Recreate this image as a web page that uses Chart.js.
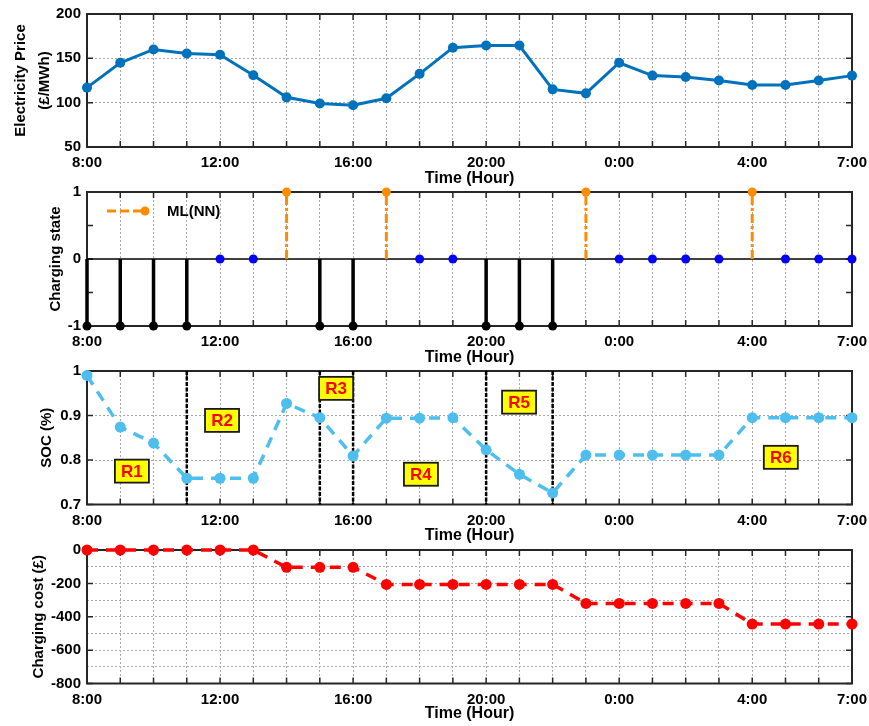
<!DOCTYPE html>
<html>
<head>
<meta charset="utf-8">
<title>EV charging schedule</title>
<script src="https://cdn.jsdelivr.net/npm/chart.js@4.4.1/dist/chart.umd.min.js"></script>
<style>
  html, body { margin: 0; padding: 0; background: #fff; }
  #wrap { position: relative; width: 869px; height: 726px; }
  #wrap canvas { position: absolute; left: 0; top: 0; }
</style>
</head>
<body>
<div id="wrap">
  <canvas id="pricePanel" width="869" height="726"></canvas>
  <canvas id="statePanel" width="869" height="726"></canvas>
  <canvas id="socPanel" width="869" height="726"></canvas>
  <canvas id="costPanel" width="869" height="726"></canvas>
</div>
<script>
// Hourly time slots over one day, starting at 8:00
const hours = ['8:00','9:00','10:00','11:00','12:00','13:00','14:00','15:00','16:00','17:00','18:00','19:00',
               '20:00','21:00','22:00','23:00','0:00','1:00','2:00','3:00','4:00','5:00','6:00','7:00'];
const labelledHours = ['8:00','12:00','16:00','20:00','0:00','4:00','7:00'];

// Electricity price (£/MWh)
const price = [117, 145, 160, 155.5, 154, 131, 106, 99, 97, 105, 132.5, 162,
               164.5, 164.5, 115, 110.5, 145, 130.5, 129, 125, 120, 120, 125, 130.5];

// Charging state: 1 = charge, 0 = idle, -1 = discharge
const chargingState = [-1, -1, -1, -1, 0, 0, 1, -1, -1, 1, 0, 0,
                       -1, -1, -1, 1, 0, 0, 0, 0, 1, 0, 0, 0];
const chargeLabel = 'ML(NN)';

// Battery state of charge
const soc = [0.99, 0.874, 0.838, 0.759, 0.759, 0.759, 0.927, 0.895, 0.809, 0.894, 0.894, 0.895,
             0.823, 0.768, 0.726, 0.811, 0.811, 0.811, 0.811, 0.811, 0.895, 0.895, 0.895, 0.895];

// Hours that split the day into operating regions
const regionBounds = ['11:00', '15:00', '16:00', '20:00', '22:00'];
const regionNames = ['R1', 'R2', 'R3', 'R4', 'R5', 'R6'];

// Cumulative charging cost (£)
const chargingCost = [0, 0, 0, 0, 0, 0, -104, -104, -104, -206, -206, -206,
                      -206, -206, -206, -320, -320, -320, -320, -320, -444, -444, -444, -444];

const FONT = '"Liberation Sans", Arial, Helvetica, sans-serif';
Chart.defaults.font.family = FONT;
Chart.defaults.color = '#000';

const toPoints = arr => arr.map((v, i) => ({ x: i, y: v }));
const GRID = '#a8a8a8';

// Box frame with inward tick marks on all four sides
const frameTicks = {
  id: 'frameTicks',
  beforeDatasetsDraw(chart, args, opts) {
    const { ctx, chartArea: a, scales: { x, y } } = chart;
    const len = 6;
    ctx.save();
    ctx.strokeStyle = '#262626';
    ctx.lineWidth = 1.5;
    ctx.beginPath();
    x.ticks.forEach(t => {
      const px = x.getPixelForValue(t.value);
      ctx.moveTo(px, a.bottom); ctx.lineTo(px, a.bottom - len);
      ctx.moveTo(px, a.top); ctx.lineTo(px, a.top + len);
    });
    y.ticks.forEach(t => {
      if (opts.labelledOnly && (t.label === '' || t.label === undefined)) return;
      const py = y.getPixelForValue(t.value);
      ctx.moveTo(a.left, py); ctx.lineTo(a.left + len, py);
      ctx.moveTo(a.right, py); ctx.lineTo(a.right - len, py);
    });
    ctx.stroke();
    ctx.lineWidth = 2;
    ctx.strokeRect(a.left, a.top, a.right - a.left, a.bottom - a.top);
    ctx.restore();
  }
};

// Legend sample for the charging stems, drawn inside the plot area
const stemLegend = {
  id: 'stemLegend',
  afterDatasetsDraw(chart) {
    const ds = chart.data.datasets.find(d => d.label === chargeLabel);
    if (!ds) return;
    const { ctx, chartArea: a } = chart;
    const y = a.top + 19;
    ctx.save();
    ctx.strokeStyle = ds.borderColor;
    ctx.lineWidth = 3;
    ctx.setLineDash([9, 4]);
    ctx.beginPath();
    ctx.moveTo(a.left + 20, y); ctx.lineTo(a.left + 58, y);
    ctx.stroke();
    ctx.setLineDash([]);
    ctx.fillStyle = ds.borderColor;
    ctx.beginPath();
    ctx.arc(a.left + 58, y, 4.5, 0, Math.PI * 2);
    ctx.fill();
    ctx.fillStyle = '#000';
    ctx.font = 'bold 15px ' + FONT;
    ctx.textAlign = 'left';
    ctx.textBaseline = 'middle';
    ctx.fillText(ds.label, a.left + 80, y + 1);
    ctx.restore();
  }
};

// Region boundaries and region tags on the SOC panel
const socRegions = {
  id: 'socRegions',
  beforeDatasetsDraw(chart) {
    const { ctx, chartArea: a, scales: { x } } = chart;
    ctx.save();
    ctx.strokeStyle = '#000';
    ctx.lineWidth = 2.5;
    ctx.setLineDash([4, 1.5]);
    regionBounds.forEach(h => {
      const px = x.getPixelForValue(hours.indexOf(h));
      ctx.beginPath();
      ctx.moveTo(px, a.top); ctx.lineTo(px, a.bottom);
      ctx.stroke();
    });
    ctx.restore();
  },
  afterDatasetsDraw(chart, args, opts) {
    const { ctx, scales: { x, y } } = chart;
    ctx.save();
    ctx.font = 'bold 17px ' + FONT;
    ctx.textAlign = 'center';
    ctx.textBaseline = 'middle';
    regionNames.forEach((name, i) => {
      const [hx, vy] = opts.anchors[i];
      const cx = x.getPixelForValue(hx), cy = y.getPixelForValue(vy);
      const w = 34, h = 23;
      ctx.fillStyle = '#ffff00';
      ctx.fillRect(cx - w / 2, cy - h / 2, w, h);
      ctx.strokeStyle = '#1a1a1a';
      ctx.lineWidth = 1.8;
      ctx.strokeRect(cx - w / 2, cy - h / 2, w, h);
      ctx.fillStyle = '#ff0000';
      ctx.fillText(name, cx, cy + 1);
    });
    ctx.restore();
  }
};

function xScale(xh) {
  return {
    type: 'linear', min: 0, max: hours.length - 1,
    afterFit: s => { s.height = xh; s.paddingLeft = 0; s.paddingRight = 0; },
    ticks: {
      stepSize: 1, autoSkip: false, maxRotation: 0, padding: 7, color: '#000',
      font: { size: 15, weight: 'bold' },
      callback: v => labelledHours.includes(hours[v]) ? hours[v] : ''
    },
    grid: { color: GRID, lineWidth: 1, drawTicks: false },
    border: { display: false, dash: [2, 2] },
    title: { display: true, text: 'Time (Hour)', color: '#000', font: { size: 16, weight: 'bold', lineHeight: 1.2 }, padding: 0 }
  };
}

function yScale(o) {
  return {
    type: 'linear', min: o.min, max: o.max,
    afterFit: s => { s.width = 87; s.paddingTop = 0; s.paddingBottom = 0; },
    ticks: {
      stepSize: o.step, padding: 6, color: '#000', autoSkip: false,
      font: { size: 15, weight: 'bold' },
      callback: o.cb || (v => v)
    },
    grid: { color: o.noGrid ? 'rgba(0,0,0,0)' : GRID, lineWidth: 1, drawTicks: false },
    border: { display: false, dash: [2, 2] },
    title: {
      display: true, text: o.title, color: '#000',
      font: { size: 15, weight: 'bold', lineHeight: o.lh || 1.2 },
      padding: { top: o.tp, bottom: 0 }
    }
  };
}

function baseOptions(top, bottom, xh, y, extraPlugins) {
  return {
    responsive: false,
    animation: false,
    devicePixelRatio: 1,
    layout: { padding: { left: 0, right: 17, top: top, bottom: 726 - bottom - xh } },
    scales: { x: xScale(xh), y: y },
    plugins: Object.assign({ legend: { display: false }, tooltip: { enabled: false } }, extraPlugins || {})
  };
}

// Panel 1: electricity price
new Chart(document.getElementById('pricePanel'), {
  type: 'line',
  data: {
    datasets: [{
      label: 'Electricity Price',
      data: toPoints(price),
      borderColor: '#0072BD', backgroundColor: '#0072BD',
      borderWidth: 3, pointRadius: 5, pointBorderWidth: 0, tension: 0, clip: false
    }]
  },
  options: baseOptions(14, 147, 41.6,
    yScale({ min: 50, max: 200, step: 50, title: ['Electricity Price', '(£/MWh)'], lh: 1.6, tp: 9 })),
  plugins: [frameTicks]
});

// Panel 2: charging state as stems
function stemPoints(level) {
  const out = [];
  chargingState.forEach((s, i) => {
    if (s === level) out.push({ x: i, y: 0 }, { x: i, y: s }, { x: i, y: null });
  });
  return out;
}
const idlePoints = chargingState.map((s, i) => s === 0 ? { x: i, y: 0 } : null).filter(Boolean);

new Chart(document.getElementById('statePanel'), {
  type: 'line',
  data: {
    datasets: [
      {
        label: chargeLabel, data: stemPoints(1),
        borderColor: '#FF8C00', backgroundColor: '#FF8C00',
        borderWidth: 3, borderDash: [9, 3, 3, 3], spanGaps: false, clip: false,
        pointRadius: c => (c.raw && c.raw.y === 1) ? 4.5 : 0, pointBorderWidth: 0
      },
      {
        label: 'Discharge', data: stemPoints(-1),
        borderColor: '#000', backgroundColor: '#000',
        borderWidth: 3.5, spanGaps: false, clip: false,
        pointRadius: c => (c.raw && c.raw.y === -1) ? 4.5 : 0, pointBorderWidth: 0
      },
      {
        label: 'Idle', data: idlePoints, showLine: false,
        backgroundColor: '#0000FF', borderColor: '#0000FF',
        pointRadius: 4.5, pointBorderWidth: 0, clip: false
      },
      {
        label: 'Baseline', data: [{ x: 0, y: 0 }, { x: hours.length - 1, y: 0 }],
        borderColor: '#000', borderWidth: 1.5, pointRadius: 0, clip: false
      }
    ]
  },
  options: baseOptions(192, 326, 41.3,
    yScale({ min: -1, max: 1, step: 0.5, title: 'Charging state', tp: 46.5, noGrid: true,
             cb: v => Number.isInteger(v) ? v : '' })),
  plugins: [frameTicks, stemLegend]
});

// Panel 3: state of charge with operating regions
new Chart(document.getElementById('socPanel'), {
  type: 'line',
  data: {
    datasets: [{
      label: 'SOC', data: toPoints(soc),
      borderColor: '#4DBEEE', backgroundColor: '#4DBEEE',
      borderWidth: 3.5, borderDash: [11, 8], pointRadius: 5.5, pointBorderWidth: 0, clip: false
    }]
  },
  options: baseOptions(371, 504.5, 40.5,
    yScale({ min: 0.7, max: 1, step: 0.1, title: 'SOC (%)', tp: 38 }),
    { socRegions: { anchors: [[1.35, 0.775], [4.06, 0.889], [7.49, 0.961], [10.04, 0.768], [12.99, 0.930], [20.86, 0.806]] } }),
  plugins: [frameTicks, socRegions]
});

// Panel 4: cumulative charging cost; only labelled ticks get inward marks
new Chart(document.getElementById('costPanel'), {
  type: 'line',
  data: {
    datasets: [{
      label: 'Charging cost', data: toPoints(chargingCost),
      borderColor: '#FF0000', backgroundColor: '#FF0000',
      borderWidth: 3.5, borderDash: [11, 8], pointRadius: 5.5, pointBorderWidth: 0, clip: false
    }]
  },
  options: baseOptions(550, 683.5, 40.1,
    yScale({ min: -800, max: 0, step: 100, title: 'Charging cost (£)', tp: 29.5,
             cb: v => (v % 200 === 0) ? v : '' }),
    { frameTicks: { labelledOnly: true } }),
  plugins: [frameTicks]
});
</script>
</body>
</html>
